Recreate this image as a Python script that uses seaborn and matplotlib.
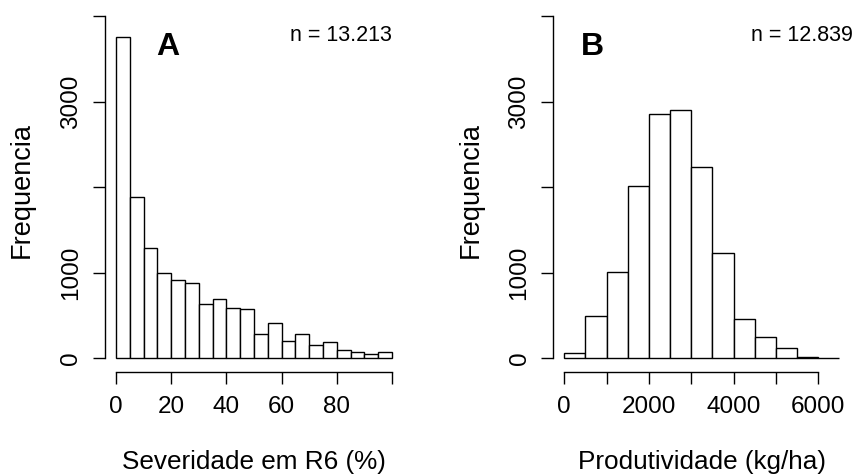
import numpy as np
import pandas as pd
import matplotlib
matplotlib.use("Agg")
import matplotlib.pyplot as plt
import seaborn as sns

# ---- data ----
sev_edges = [0, 5, 10, 15, 20, 25, 30, 35, 40, 45, 50, 55, 60, 65, 70, 75, 80, 85, 90, 95, 100]
sev_counts = [3754, 1879, 1285, 996, 918, 883, 629, 691, 590, 578,
              277, 410, 199, 285, 152, 188, 94, 74, 43, 70]
prod_edges = [0, 500, 1000, 1500, 2000, 2500, 3000, 3500, 4000, 4500, 5000, 5500, 6000, 6500]
prod_counts = [59, 496, 1008, 2012, 2852, 2902, 2238, 1234, 453, 242, 117, 12, 0]

y_ticks = [0, 1000, 2000, 3000, 4000]
y_tick_labels = ["0", "1000", "", "3000", ""]
sev_ticks = [0, 20, 40, 60, 80, 100]
sev_tick_labels = ["0", "20", "40", "60", "80", ""]
prod_ticks = [0, 1000, 2000, 3000, 4000, 5000, 6000]
prod_tick_labels = ["0", "", "2000", "", "4000", "", "6000"]

panel_letters = ["A", "B"]
n_labels = ["n = 13.213", "n = 12.839"]
x_labels = ["Severidade em R6 (%)", "Produtividade (kg/ha)"]
y_label = "Frequencia"

sns.set_style("ticks")
plt.rcParams["font.family"] = ["Liberation Sans", "DejaVu Sans"]
plt.rcParams["text.color"] = "black"
plt.rcParams["axes.labelcolor"] = "black"
plt.rcParams["xtick.color"] = "black"
plt.rcParams["ytick.color"] = "black"

W, H = 857, 475
fig = plt.figure(figsize=(W / 100, H / 100), dpi=100)
axA = fig.add_axes([105 / W, 103.3 / H, 298 / W, 369.3 / H])
axB = fig.add_axes([553.3 / W, 103.3 / H, 297.2 / W, 369.3 / H])


def draw(ax, edges, counts, xticks, xticklabels, xlim, letter_xy, n_xy, letter, ntext, xlabel):
    centers = [(edges[i] + edges[i + 1]) / 2 for i in range(len(counts))]
    df = pd.DataFrame({"x": centers, "w": counts})
    sns.histplot(data=df, x="x", weights="w", bins=edges, ax=ax,
                 color="white", edgecolor="black", linewidth=1.0, alpha=1)
    ax.set_xlim(*xlim)
    ax.set_ylim(-160, 4160)
    for s in ["top", "right"]:
        ax.spines[s].set_visible(False)
    ax.spines["left"].set_bounds(0, 4000)
    ax.spines["bottom"].set_bounds(xticks[0], xticks[-1])
    for s in ["left", "bottom"]:
        ax.spines[s].set_linewidth(1.0)
        ax.spines[s].set_color("black")
    ax.set_xticks(xticks)
    ax.set_xticklabels(xticklabels)
    ax.set_yticks(y_ticks)
    ax.set_yticklabels(y_tick_labels)
    ax.tick_params(axis="both", direction="out", length=8.4, width=1.0,
                   colors="black", labelcolor="black", labelsize=17.5)
    ax.tick_params(axis="x", pad=9)
    ax.tick_params(axis="y", pad=8, labelrotation=90)
    for lab in ax.get_yticklabels():
        lab.set_va("center")
        lab.set_ha("right")
    ax.set_xlabel(xlabel, fontsize=18.8, color="black")
    ax.set_ylabel(y_label, fontsize=19.5, color="black")
    ax.xaxis.set_label_coords(0.5, -0.2437)
    ax.xaxis.label.set_va("center")
    ax.yaxis.set_label_coords(-83 / 298, 0.492)
    ax.yaxis.label.set_va("center")
    ax.text(letter_xy[0], letter_xy[1], letter, fontsize=23, fontweight="bold",
            ha="center", va="center", color="black")
    ax.text(n_xy[0], n_xy[1], ntext, fontsize=15.5, ha="right", va="center",
            color="black")
    ax.grid(False)


draw(axA, sev_edges, sev_counts, sev_ticks, sev_tick_labels, (-4, 104),
     (18.8, 3640), (100, 3778), panel_letters[0], n_labels[0], x_labels[0])
draw(axB, prod_edges, prod_counts, prod_ticks, prod_tick_labels, (-260, 6760),
     (654, 3640), (6820, 3778), panel_letters[1], n_labels[1], x_labels[1])

fig.savefig("out.png", dpi=100)
